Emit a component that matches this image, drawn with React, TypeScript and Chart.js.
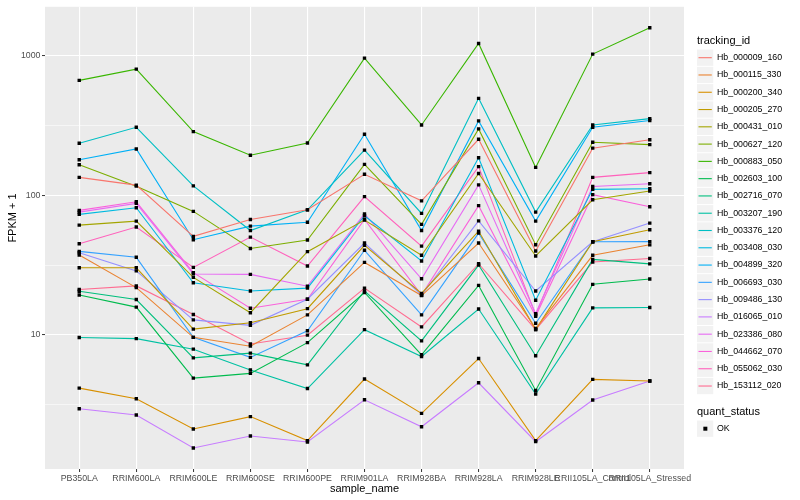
import React, { useEffect, useRef } from "react";
import { Chart, registerables } from "chart.js";

Chart.register(...registerables);

// ---------- data ----------
const categories = [
  "PB350LA",
  "RRIM600LA",
  "RRIM600LE",
  "RRIM600SE",
  "RRIM600PE",
  "RRIM901LA",
  "RRIM928BA",
  "RRIM928LA",
  "RRIM928LE",
  "RRII105LA_Control",
  "RRII105LA_Stressed",
];

const trackingIds = [
  "Hb_000009_160",
  "Hb_000115_330",
  "Hb_000200_340",
  "Hb_000205_270",
  "Hb_000431_010",
  "Hb_000627_120",
  "Hb_000883_050",
  "Hb_002603_100",
  "Hb_002716_070",
  "Hb_003207_190",
  "Hb_003376_120",
  "Hb_003408_030",
  "Hb_004899_320",
  "Hb_006693_030",
  "Hb_009486_130",
  "Hb_016065_010",
  "Hb_023386_080",
  "Hb_044662_070",
  "Hb_055062_030",
  "Hb_153112_020",
];

const seriesColors = [
  "#F8766D", "#EA8331", "#D89000", "#C09B00", "#A3A500",
  "#7CAE00", "#39B600", "#00BB4E", "#00BF7D", "#00C1A3",
  "#00BFC4", "#00BAE0", "#00B0F6", "#35A2FF", "#9590FF",
  "#C77CFF", "#E76BF3", "#FA62DB", "#FF62BC", "#FF6C91",
];

const hb000009 = [134, 118, 50.7, 67, 78.5, 141, 91, 251, 39.8, 217, 249];
const hb000115 = [37.3, 21.8, 9.6, 8.3, 13.9, 33, 19.1, 45.4, 11.1, 37.1, 44.1];
const hb000200 = [4.16, 3.49, 2.12, 2.6, 1.75, 4.83, 2.74, 6.77, 1.75, 4.8, 4.67];
const hb000205 = [30.2, 30.2, 11, 12.2, 15.4, 43.7, 19.8, 55.3, 10.9, 46.4, 56.5];
const hb000431 = [61, 65.2, 25.8, 14.4, 39.4, 66.3, 37.1, 143, 36.7, 92.6, 107];
const hb000627 = [165, 116, 76.5, 41.5, 47.7, 166, 61.8, 298, 44.2, 239, 230];
const hb000883 = [663, 798, 285, 193, 236, 956, 318, 1218, 158, 1022, 1577];
const hb002603 = [19.3, 15.8, 4.9, 5.3, 8.8, 20.1, 7.2, 22.6, 4.0, 23, 25.1];
const hb002716 = [20.5, 17.9, 6.85, 7.4, 6.1, 20.6, 9.06, 31.6, 7.08, 34.7, 32.2];
const hb003207 = [9.57, 9.4, 7.9, 5.6, 4.13, 10.9, 7.0, 15.3, 3.77, 15.6, 15.7];
const hb003376 = [235, 306, 116.5, 55.8, 78.5, 210, 74, 493, 75.6, 318, 353];
const hb003408 = [72.8, 81.2, 23.6, 20.6, 21.6, 71.2, 33.8, 185, 17.7, 110, 111];
const hb004899 = [179, 214, 48, 60, 64, 273, 55.8, 340, 65.2, 306, 342];
const hb006693 = [39.6, 35.9, 9.6, 6.9, 10.7, 40.3, 13.9, 53.5, 12.1, 46.4, 46.5];
const hb009486 = [38.7, 28.7, 12.8, 11.7, 18, 45.4, 19.3, 65.5, 20.6, 46.4, 63.1];
const hb016065 = [2.96, 2.67, 1.55, 1.89, 1.71, 3.43, 2.2, 4.54, 1.72, 3.42, 4.67];
const hb023386 = [75.6, 87.3, 27.3, 27.1, 22.3, 73.5, 25.2, 118.5, 14.2, 115.4, 120.8];
const hb044662 = [77.8, 89.6, 27.9, 15.5, 18, 67, 19.3, 84.1, 13.6, 100.8, 82.5];
const hb055062 = [44.9, 59.1, 30.4, 50.1, 31.1, 97.6, 43.2, 160, 13.9, 134, 145];
const hb153112 = [21.1, 22.4, 14, 8.6, 9.95, 21.6, 11.4, 32.3, 10.9, 33.2, 35.2];

const seriesValues = [
  hb000009, hb000115, hb000200, hb000205, hb000431,
  hb000627, hb000883, hb002603, hb002716, hb003207,
  hb003376, hb003408, hb004899, hb006693, hb009486,
  hb016065, hb023386, hb044662, hb055062, hb153112,
];

const yMajorTicks = [10, 100, 1000];
const yMinorTicks = [3.1623, 31.623, 316.23];
const quantStatusLevels = ["OK"];

const FONT = '"Liberation Sans", Arial, Helvetica, sans-serif';

// ---------- plugins ----------
const panelBackground = {
  id: "panelBackground",
  beforeDraw(chart: any) {
    const { ctx, chartArea } = chart;
    ctx.save();
    ctx.fillStyle = "#EBEBEB";
    ctx.fillRect(chartArea.left, chartArea.top, chartArea.right - chartArea.left, chartArea.bottom - chartArea.top);
    ctx.restore();
  },
};

const ggLegend = {
  id: "ggLegend",
  afterDraw(chart: any) {
    const { ctx, chartArea } = chart;
    ctx.save();
    // axis titles
    ctx.fillStyle = "#000";
    ctx.font = `11px ${FONT}`;
    ctx.textAlign = "center";
    ctx.textBaseline = "middle";
    ctx.fillText("sample_name", (chartArea.left + chartArea.right) / 2, 489);
    ctx.save();
    ctx.translate(13, 218);
    ctx.rotate(-Math.PI / 2);
    ctx.fillText("FPKM + 1", 0, 0);
    ctx.restore();

    // legend
    const x0 = 697;
    const key = 17.28;
    ctx.textAlign = "left";
    ctx.font = `11px ${FONT}`;
    ctx.fillText("tracking_id", x0, 40.5);
    ctx.font = `8.8px ${FONT}`;
    trackingIds.forEach((id, i) => {
      const cy = 57.7 + i * key;
      ctx.fillStyle = "#F2F2F2";
      ctx.fillRect(x0, cy - key / 2 + 0.5, key - 1, key - 1);
      ctx.strokeStyle = seriesColors[i];
      ctx.lineWidth = 1.1;
      ctx.beginPath();
      ctx.moveTo(x0 + 1.5, cy);
      ctx.lineTo(x0 + key - 2.5, cy);
      ctx.stroke();
      ctx.fillStyle = "#000";
      ctx.fillText(id, x0 + 20, cy);
    });
    ctx.font = `11px ${FONT}`;
    ctx.fillText("quant_status", x0, 412);
    ctx.font = `8.8px ${FONT}`;
    quantStatusLevels.forEach((lv, i) => {
      const cy = 428.7 + i * key;
      ctx.fillStyle = "#F2F2F2";
      ctx.fillRect(x0, cy - key / 2 + 0.5, key - 1, key - 1);
      ctx.fillStyle = "#000";
      ctx.fillRect(x0 + key / 2 - 2.3, cy - 2, 4, 4);
      ctx.fillText(lv, x0 + 20, cy);
    });
    ctx.restore();
  },
};

export default function App() {
  const ref = useRef<HTMLCanvasElement>(null);

  useEffect(() => {
    if (!ref.current) return;
    const all = seriesValues.flat();
    const lmin = Math.log10(Math.min(...all));
    const lmax = Math.log10(Math.max(...all));
    const pad = (lmax - lmin) * 0.05;
    const yMin = Math.pow(10, lmin - pad);
    const yMax = Math.pow(10, lmax + pad);

    const lineSets = seriesValues.map((vals, i) => ({
      label: trackingIds[i],
      data: vals.map((v, j) => ({ x: j, y: v })),
      borderColor: seriesColors[i],
      backgroundColor: seriesColors[i],
      borderWidth: 1.1,
      pointRadius: 0,
      tension: 0,
      fill: false,
      order: 2,
    }));
    const pointSets = seriesValues.map((vals, i) => ({
      label: trackingIds[i] + " OK",
      data: vals.map((v, j) => ({ x: j, y: v })),
      showLine: false,
      pointStyle: "rect",
      pointRadius: 2.4,
      pointBorderWidth: 0,
      pointBackgroundColor: "#000",
      pointBorderColor: "#000",
      order: 1,
    }));

    const chart = new Chart(ref.current, {
      type: "line",
      data: { datasets: [...lineSets, ...pointSets] as any },
      plugins: [panelBackground, ggLegend],
      options: {
        animation: false,
        responsive: false,
        devicePixelRatio: 1,
        layout: { padding: { left: 0, top: 5, right: 116, bottom: 0 } },
        plugins: { legend: { display: false }, tooltip: { enabled: false } },
        scales: {
          x: {
            type: "linear",
            min: -0.6,
            max: categories.length - 1 + 0.6,
            afterBuildTicks: (scale: any) => {
              scale.ticks = categories.map((_, i) => ({ value: i }));
            },
            afterFit: (scale: any) => {
              scale.height = 31;
            },
            border: { display: false },
            grid: {
              color: "#FFFFFF",
              lineWidth: 1.1,
              tickColor: "#333333",
              tickLength: 3,
              tickWidth: 1,
            },
            ticks: {
              autoSkip: false,
              maxRotation: 0,
              minRotation: 0,
              padding: 1,
              color: "#4D4D4D",
              font: { family: FONT, size: 8.8 },
              callback: (v: any) => categories[Math.round(Number(v))] ?? "",
            },
          },
          y: {
            type: "logarithmic",
            min: yMin,
            max: yMax,
            bounds: "data",
            afterBuildTicks: (scale: any) => {
              const t = [...yMinorTicks, ...yMajorTicks]
                .filter((v) => v >= yMin && v <= yMax)
                .sort((a, b) => a - b);
              scale.ticks = t.map((v) => ({ value: v }));
            },
            afterFit: (scale: any) => {
              scale.width = 45;
            },
            border: { display: false },
            grid: {
              color: "#FFFFFF",
              lineWidth: (c: any) => (yMajorTicks.includes(c.tick?.value) ? 1.1 : 0.55),
              tickColor: (c: any) => (yMajorTicks.includes(c.tick?.value) ? "#333333" : "rgba(0,0,0,0)"),
              tickLength: 3,
              tickWidth: 1,
            },
            ticks: {
              autoSkip: false,
              padding: 1.5,
              color: "#4D4D4D",
              font: { family: FONT, size: 8.8 },
              callback: (v: any) => (yMajorTicks.includes(Number(v)) ? String(v) : ""),
            },
          },
        },
      } as any,
    });
    return () => chart.destroy();
  }, []);

  return (
    <div style={{ position: "fixed", left: 0, top: 0, width: 800, height: 500, background: "#fff" }}>
      <canvas ref={ref} width={800} height={500} style={{ display: "block" }} />
    </div>
  );
}
